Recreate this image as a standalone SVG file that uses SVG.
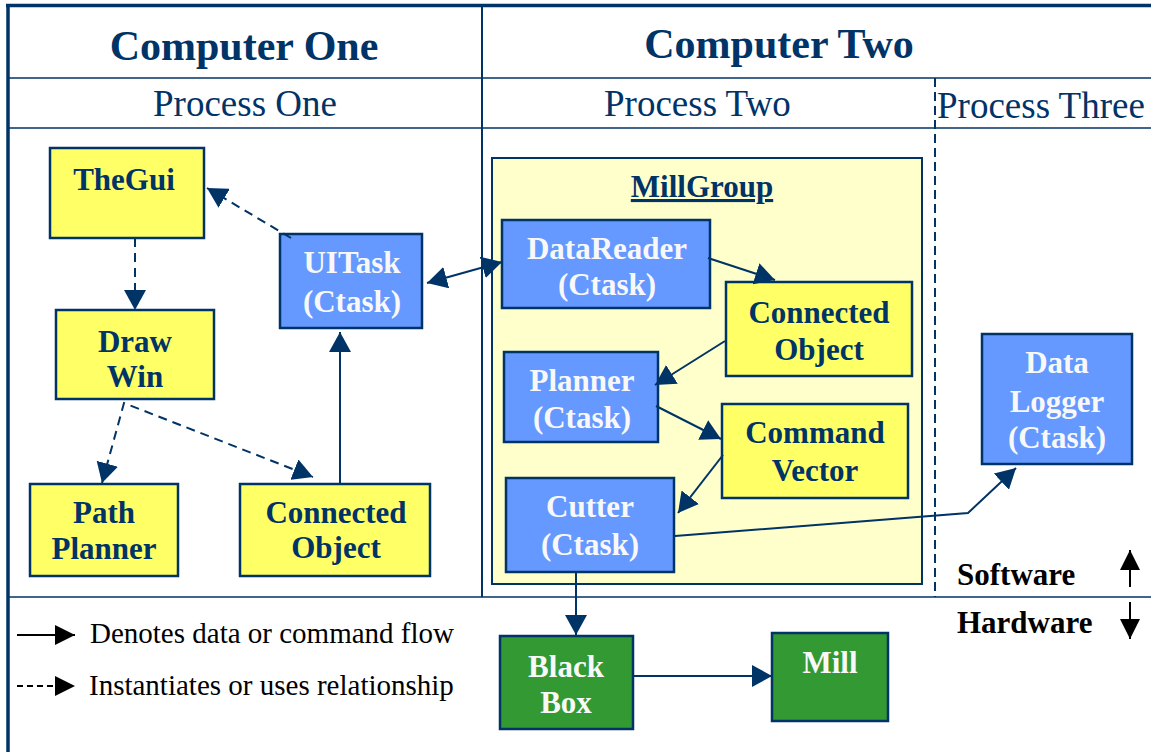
<svg xmlns="http://www.w3.org/2000/svg" width="1151" height="752" viewBox="0 0 1151 752">
<style>
.frame{stroke:#003366;fill:none}
.y{fill:#FFFF66;stroke:#003366;stroke-width:2.5}
.b{fill:#6699FF;stroke:#003366;stroke-width:2.5}
.g{fill:#339933;stroke:#003366;stroke-width:2.5}
.tn{font-family:"Liberation Serif",serif;font-weight:bold;font-size:31px;fill:#003366;text-anchor:middle}
.tw{font-family:"Liberation Serif",serif;font-weight:bold;font-size:31px;fill:#F8F8F8;text-anchor:middle}
.h1{font-family:"Liberation Serif",serif;font-weight:bold;font-size:42px;fill:#003366;text-anchor:middle}
.h2{font-family:"Liberation Serif",serif;font-size:37px;fill:#003366}
.lg{font-family:"Liberation Serif",serif;font-size:29px;fill:#000000}
.sh{font-family:"Liberation Serif",serif;font-weight:bold;font-size:31px;fill:#000000}
.c{stroke:#003366;stroke-width:2;fill:none}
.d{stroke:#003366;stroke-width:2;fill:none;stroke-dasharray:9,6}
.k{stroke:#000000;stroke-width:2;fill:none}
</style>
<defs>
<marker id="ah" viewBox="0 0 20 22" refX="20" refY="11" markerWidth="20" markerHeight="22" markerUnits="userSpaceOnUse" orient="auto-start-reverse"><path d="M0,0 L20,11 L0,22 z" fill="#003366"/></marker>
<marker id="ak" viewBox="0 0 20 20" refX="20" refY="10" markerWidth="20" markerHeight="20" markerUnits="userSpaceOnUse" orient="auto"><path d="M0,0 L20,10 L0,20 z" fill="#000000"/></marker>
</defs>
<rect x="0" y="0" width="1151" height="752" fill="#FFFFFF"/>
<g id="frame">
<line x1="8" y1="5" x2="8" y2="752" class="frame" stroke-width="3.5"/>
<line x1="6" y1="5.5" x2="1151" y2="5.5" class="frame" stroke-width="3.5"/>
<line x1="482" y1="5" x2="482" y2="597" class="frame" stroke-width="2"/>
<line x1="8" y1="78" x2="1151" y2="78" class="frame" stroke-width="1.5"/>
<line x1="8" y1="128" x2="1151" y2="128" class="frame" stroke-width="1.5"/>
<line x1="8" y1="597" x2="1151" y2="597" class="frame" stroke-width="1.5"/>
<line x1="935" y1="78" x2="935" y2="597" class="frame" stroke-width="2" stroke-dasharray="9,5"/>
<text x="244" y="60" class="h1">Computer One</text>
<text x="779" y="58" class="h1">Computer Two</text>
<text x="153" y="116" class="h2">Process One</text>
<text x="604" y="116" class="h2">Process Two</text>
<text x="937" y="118" class="h2">Process Three</text>
</g>
<g id="millgroup">
<rect x="492" y="158" width="430" height="426" fill="#FFFFCC" stroke="#003366" stroke-width="2"/>
<text x="702" y="197" class="tn" text-decoration="underline">MillGroup</text>
</g>
<g id="thegui"><rect x="50" y="148" width="154" height="90" class="y"/><text x="124" y="190" class="tn">TheGui</text></g>
<g id="drawwin"><rect x="56" y="310" width="158" height="89" class="y"/><text x="135" y="352" class="tn">Draw</text><text x="135" y="387" class="tn">Win</text></g>
<g id="uitask"><rect x="280" y="234" width="142" height="94" class="b"/><text x="352" y="273" class="tw">UITask</text><text x="352" y="312" class="tw">(Ctask)</text></g>
<g id="pathplanner"><rect x="30" y="484" width="148" height="92" class="y"/><text x="104" y="523" class="tn">Path</text><text x="104" y="559" class="tn">Planner</text></g>
<g id="connectedobject1"><rect x="240" y="484" width="190" height="92" class="y"/><text x="336" y="523" class="tn">Connected</text><text x="336" y="558" class="tn">Object</text></g>
<g id="datareader"><rect x="502" y="220" width="208" height="88" class="b"/><text x="607" y="259" class="tw">DataReader</text><text x="607" y="295" class="tw">(Ctask)</text></g>
<g id="connectedobject2"><rect x="726" y="282" width="186" height="94" class="y"/><text x="819" y="323" class="tn">Connected</text><text x="819" y="360" class="tn">Object</text></g>
<g id="planner"><rect x="504" y="352" width="154" height="90" class="b"/><text x="582" y="391" class="tw">Planner</text><text x="582" y="428" class="tw">(Ctask)</text></g>
<g id="commandvector"><rect x="722" y="404" width="186" height="94" class="y"/><text x="815" y="443" class="tn">Command</text><text x="815" y="481" class="tn">Vector</text></g>
<g id="cutter"><rect x="506" y="478" width="168" height="94" class="b"/><text x="590" y="517" class="tw">Cutter</text><text x="590" y="555" class="tw">(Ctask)</text></g>
<g id="datalogger"><rect x="982" y="334" width="150" height="130" class="b"/><text x="1057" y="373" class="tw">Data</text><text x="1057" y="412" class="tw">Logger</text><text x="1057" y="448" class="tw">(Ctask)</text></g>
<g id="blackbox"><rect x="500" y="636" width="133" height="93" class="g"/><text x="566" y="677" class="tw">Black</text><text x="566" y="713" class="tw">Box</text></g>
<g id="mill"><rect x="772" y="633" width="116" height="88" class="g"/><text x="830" y="673" class="tw">Mill</text></g>
<g id="connectors">
<line x1="135" y1="238" x2="135" y2="310" class="d" marker-end="url(#ah)"/>
<line x1="291" y1="238" x2="207" y2="188" class="d" marker-end="url(#ah)"/>
<polyline points="102,483 124,403 313,477" class="d" marker-start="url(#ah)" marker-end="url(#ah)"/>
<line x1="340" y1="484" x2="340" y2="332" class="c" marker-end="url(#ah)"/>
<line x1="427" y1="283" x2="502" y2="262" class="c" marker-start="url(#ah)" marker-end="url(#ah)"/>
<line x1="708" y1="258" x2="775" y2="280" class="c" marker-end="url(#ah)"/>
<line x1="725" y1="341" x2="655" y2="385" class="c" marker-end="url(#ah)"/>
<line x1="656" y1="406" x2="721" y2="439" class="c" marker-end="url(#ah)"/>
<line x1="723" y1="455" x2="678" y2="513" class="c" marker-end="url(#ah)"/>
<polyline points="675,536 968,513 1016,468" class="c" marker-end="url(#ah)"/>
<line x1="576" y1="572" x2="576" y2="635" class="c" marker-end="url(#ah)"/>
<line x1="633" y1="676" x2="772" y2="676" class="c" marker-end="url(#ah)"/>
</g>
<g id="legend">
<line x1="17" y1="635" x2="75" y2="635" class="k" marker-end="url(#ak)"/>
<text x="90" y="643" class="lg">Denotes data or command flow</text>
<line x1="17" y1="686" x2="75" y2="686" class="k" stroke-dasharray="6,4" marker-end="url(#ak)"/>
<text x="89" y="695" class="lg">Instantiates or uses relationship</text>
<text x="957" y="585" class="sh">Software</text>
<text x="957" y="633" class="sh">Hardware</text>
<line x1="1130" y1="587" x2="1130" y2="550" class="k" marker-end="url(#ak)"/>
<line x1="1130" y1="602" x2="1130" y2="639" class="k" marker-end="url(#ak)"/>
</g>
</svg>
